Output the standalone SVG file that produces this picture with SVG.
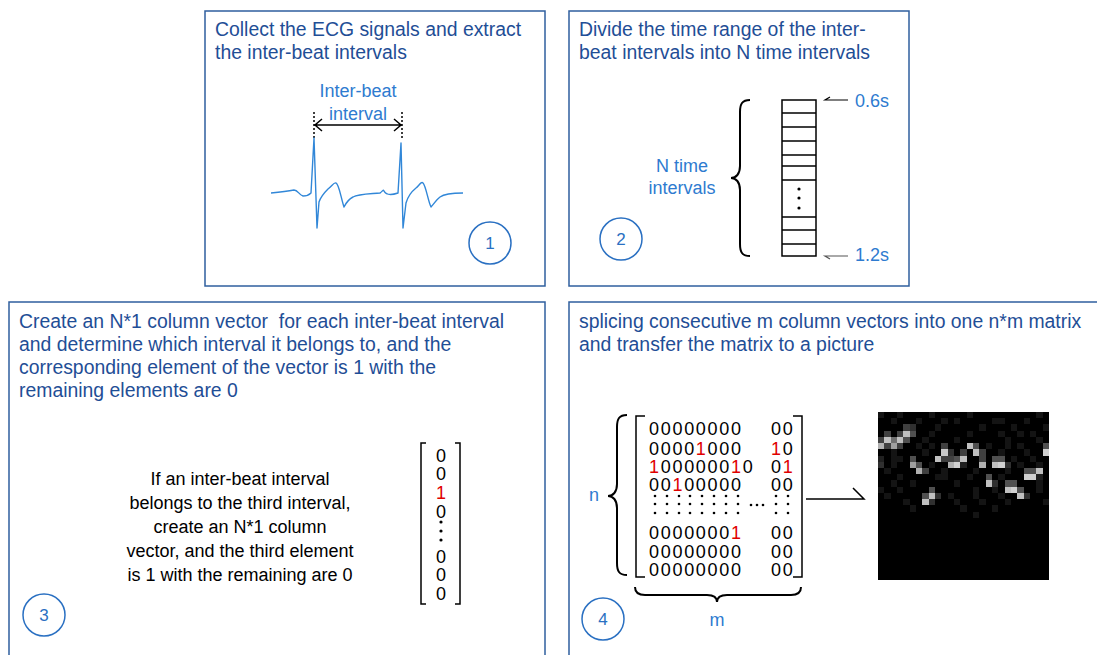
<svg xmlns="http://www.w3.org/2000/svg" width="1097" height="655" viewBox="0 0 1097 655">
<style>
text{font-family:"Liberation Sans",Arial,sans-serif}
.panel{fill:#fff;stroke:#2f5f9e;stroke-width:1.5}
.title{font-size:19.4px;fill:#1f4e96}
.lbl{font-size:18px;fill:#2e7bd0}
.body{font-size:18px;fill:#000;text-anchor:middle}
.mat{font-size:18px;fill:#000;letter-spacing:1.7px}
.red{fill:#e00000}
.num circle{fill:none;stroke:#2a70c2;stroke-width:1.5}
.num text{font-size:17px;fill:#2a70c2;text-anchor:middle}
.ln{fill:none;stroke:#000;stroke-width:1.5}
.br{fill:none;stroke:#000;stroke-width:2}
.dot{fill:#000}
</style>
<rect width="1097" height="655" fill="#fff"/>

<g id="panel1">
<rect class="panel" x="205" y="11" width="340" height="275"/>
<text class="title" x="215" y="36">Collect the ECG signals and extract</text>
<text class="title" x="215" y="59">the inter-beat intervals</text>
<text class="lbl" x="358" y="97" text-anchor="middle">Inter-beat</text>
<text class="lbl" x="358" y="120" text-anchor="middle">interval</text>
<line x1="314" y1="112" x2="314" y2="138" stroke="#000" stroke-width="1.5" stroke-dasharray="2,2"/>
<line x1="402" y1="112" x2="402" y2="138" stroke="#000" stroke-width="1.5" stroke-dasharray="2,2"/>
<path class="ln" d="M314,125 H402 M322,119 L315,125 L322,131 M394,119 L401,125 L394,131"/>
<path fill="none" stroke="#3187d8" stroke-width="1.4" stroke-linejoin="round" d="M271,193 C280,192 288,191 294,190 C298,190 299,195 303,196 C307,196 309,195 311,193 L314,138 L317,228 L319,202 C321,196 324,193 328,189 C332,186 334,182 336,183 C339,184 341,198 344,207 C346,203 349,199 353,197 C358,194 368,194 380,193 C382,192 383,189 384,191 C386,195 392,195 398,193 L401,143 L403,228 L406,203 C408,196 411,192 416,188 C419,186 421,181 423,183 C426,186 428,201 431,207 C433,205 436,200 440,197 C444,194 450,193 463,193"/>
<g class="num"><circle cx="490" cy="243" r="21"/><text x="490" y="249">1</text></g>
</g>

<g id="panel2">
<rect class="panel" x="569" y="11" width="340" height="275"/>
<text class="title" x="579" y="36">Divide the time range of the inter-</text>
<text class="title" x="579" y="59">beat intervals into N time intervals</text>
<text class="lbl" x="682" y="172" text-anchor="middle">N time</text>
<text class="lbl" x="682" y="194" text-anchor="middle">intervals</text>
<path class="br" d="M750,100 C742,100 740,104 740,112 L740,166 C740,174 736,178 731,178 C736,178 740,182 740,190 L740,244 C740,252 742,256 750,256"/>
<rect x="782" y="100" width="34" height="156" fill="none" stroke="#000" stroke-width="1.5"/>
<path class="ln" d="M782,113 H816 M782,127 H816 M782,141 H816 M782,155 H816 M782,166 H816 M782,180 H816 M782,217 H816 M782,230 H816 M782,244 H816"/>
<circle class="dot" cx="799" cy="189" r="1.6"/>
<circle class="dot" cx="799" cy="198" r="1.6"/>
<circle class="dot" cx="799" cy="208" r="1.6"/>
<path fill="none" stroke="#000" stroke-width="1.2" d="M848,100 H825 L830,97"/>
<path fill="none" stroke="#555" stroke-width="1.2" d="M848,256 H825 L830,259"/>
<text class="lbl" x="855" y="107">0.6s</text>
<text class="lbl" x="855" y="261">1.2s</text>
<g class="num"><circle cx="621" cy="239" r="21"/><text x="621" y="245">2</text></g>
</g>

<g id="panel3">
<rect class="panel" x="9" y="302" width="536" height="380"/>
<text class="title" x="19" y="328" style="white-space:pre">Create an N*1 column vector  for each inter-beat interval</text>
<text class="title" x="19" y="351">and determine which interval it belongs to, and the</text>
<text class="title" x="19" y="374">corresponding element of the vector is 1 with the</text>
<text class="title" x="19" y="397">remaining elements are 0</text>
<text class="body" x="240" y="485">If an inter-beat interval</text>
<text class="body" x="240" y="509">belongs to the third interval,</text>
<text class="body" x="240" y="533">create an N*1 column</text>
<text class="body" x="240" y="557">vector, and the third element</text>
<text class="body" x="240" y="581">is 1 with the remaining are 0</text>
<path class="ln" d="M426,443 H421 V604 H426 M455,443 H460 V604 H455"/>
<g font-size="18" text-anchor="middle">
<text x="441" y="462">0</text>
<text x="441" y="480">0</text>
<text x="441" y="499" class="red">1</text>
<text x="441" y="518">0</text>
<text x="441" y="563">0</text>
<text x="441" y="581">0</text>
<text x="441" y="600">0</text>
</g>
<circle class="dot" cx="441" cy="522" r="1.6"/>
<circle class="dot" cx="441" cy="531" r="1.6"/>
<circle class="dot" cx="441" cy="540" r="1.6"/>
<g class="num"><circle cx="44" cy="615" r="21"/><text x="44" y="621">3</text></g>
</g>

<g id="panel4">
<rect class="panel" x="569" y="302" width="560" height="380"/>
<text class="title" x="579" y="328">splicing consecutive m column vectors into one n*m matrix</text>
<text class="title" x="579" y="351">and transfer the matrix to a picture</text>
<text class="lbl" x="594" y="501" text-anchor="middle">n</text>
<path class="br" d="M627,415 C619,415 617,419 617,427 L617,484 C617,492 613,496 608,496 C613,496 617,500 617,508 L617,563 C617,571 619,575 627,575"/>
<path class="ln" d="M645,416 H636 V577 H645 M793,416 H802 V577 H793"/>
<g class="mat">
<text x="649" y="435">00000000</text>
<text x="649" y="455">0000<tspan class="red">1</tspan>000</text>
<text x="649" y="473"><tspan class="red">1</tspan>000000<tspan class="red">1</tspan>0</text>
<text x="649" y="491">00<tspan class="red">1</tspan>00000</text>
<text x="649" y="539">0000000<tspan class="red">1</tspan></text>
<text x="649" y="558">00000000</text>
<text x="649" y="576">00000000</text>
<text x="771" y="435">00</text>
<text x="771" y="455"><tspan class="red">1</tspan>0</text>
<text x="771" y="473">0<tspan class="red">1</tspan></text>
<text x="771" y="491">00</text>
<text x="771" y="539">00</text>
<text x="771" y="558">00</text>
<text x="771" y="576">00</text>
</g>
<g class="dot">
<circle cx="655" cy="496" r="1.3"/><circle cx="667" cy="496" r="1.3"/><circle cx="679" cy="496" r="1.3"/><circle cx="690" cy="496" r="1.3"/><circle cx="702" cy="496" r="1.3"/><circle cx="714" cy="496" r="1.3"/><circle cx="726" cy="496" r="1.3"/><circle cx="738" cy="496" r="1.3"/><circle cx="776" cy="496" r="1.3"/><circle cx="788" cy="496" r="1.3"/>
<circle cx="655" cy="504" r="1.3"/><circle cx="667" cy="504" r="1.3"/><circle cx="679" cy="504" r="1.3"/><circle cx="690" cy="504" r="1.3"/><circle cx="702" cy="504" r="1.3"/><circle cx="714" cy="504" r="1.3"/><circle cx="726" cy="504" r="1.3"/><circle cx="738" cy="504" r="1.3"/><circle cx="776" cy="504" r="1.3"/><circle cx="788" cy="504" r="1.3"/>
<circle cx="655" cy="513" r="1.3"/><circle cx="667" cy="513" r="1.3"/><circle cx="679" cy="513" r="1.3"/><circle cx="690" cy="513" r="1.3"/><circle cx="702" cy="513" r="1.3"/><circle cx="714" cy="513" r="1.3"/><circle cx="726" cy="513" r="1.3"/><circle cx="738" cy="513" r="1.3"/><circle cx="776" cy="513" r="1.3"/><circle cx="788" cy="513" r="1.3"/>
<circle cx="751" cy="505" r="1.3"/><circle cx="757" cy="505" r="1.3"/><circle cx="763" cy="505" r="1.3"/>
</g>
<path class="br" d="M635,587 C635,593 639,595 645,595 L707,595 C713,595 717,597 717,602 C717,597 721,595 727,595 L791,595 C797,595 801,593 801,587"/>
<text class="lbl" x="717" y="626" text-anchor="middle">m</text>
<g class="num"><circle cx="603" cy="619" r="21"/><text x="603" y="625">4</text></g>
</g>

<g id="connectors">
<path class="ln" d="M806,499 H864 L853,488"/>
</g>

<g id="picture" transform="translate(878,412) scale(6.333,6.222)" shape-rendering="crispEdges">
<rect x="0" y="0" width="27" height="27" fill="#000"/>
<g fill="#141414">
<rect x="0" y="0" width="1" height="1"/><rect x="3" y="0" width="1" height="1"/><rect x="8" y="0" width="1" height="1"/><rect x="14" y="0" width="1" height="1"/><rect x="25" y="0" width="1" height="1"/>
<rect x="2" y="1" width="1" height="1"/><rect x="6" y="1" width="1" height="1"/><rect x="10" y="1" width="1" height="1"/><rect x="12" y="1" width="1" height="1"/><rect x="18" y="1" width="1" height="1"/><rect x="19" y="1" width="1" height="1"/><rect x="23" y="1" width="1" height="1"/>
<rect x="9" y="2" width="1" height="1"/><rect x="16" y="2" width="1" height="1"/><rect x="21" y="2" width="1" height="1"/><rect x="26" y="2" width="1" height="1"/>
<rect x="8" y="3" width="1" height="1"/><rect x="14" y="3" width="1" height="1"/><rect x="19" y="3" width="1" height="1"/><rect x="22" y="3" width="1" height="1"/><rect x="24" y="3" width="1" height="1"/>
<rect x="7" y="4" width="1" height="1"/><rect x="12" y="4" width="1" height="1"/><rect x="20" y="4" width="1" height="1"/><rect x="25" y="4" width="1" height="1"/>
<rect x="6" y="5" width="1" height="1"/><rect x="8" y="5" width="1" height="1"/><rect x="17" y="5" width="1" height="1"/><rect x="20" y="5" width="1" height="1"/><rect x="22" y="5" width="1" height="1"/>
<rect x="2" y="6" width="1" height="1"/><rect x="7" y="6" width="1" height="1"/><rect x="19" y="6" width="1" height="1"/><rect x="23" y="6" width="1" height="1"/>
<rect x="2" y="7" width="1" height="1"/><rect x="3" y="7" width="1" height="1"/><rect x="21" y="7" width="1" height="1"/><rect x="24" y="7" width="1" height="1"/>
<rect x="2" y="8" width="1" height="1"/><rect x="8" y="8" width="1" height="1"/><rect x="22" y="8" width="1" height="1"/><rect x="25" y="8" width="1" height="1"/>
<rect x="1" y="9" width="1" height="1"/><rect x="10" y="9" width="1" height="1"/><rect x="15" y="9" width="1" height="1"/><rect x="20" y="9" width="1" height="1"/>
<rect x="3" y="10" width="1" height="1"/><rect x="9" y="10" width="1" height="1"/><rect x="10" y="10" width="1" height="1"/><rect x="14" y="10" width="1" height="1"/><rect x="19" y="10" width="1" height="1"/>
<rect x="2" y="11" width="1" height="1"/><rect x="5" y="11" width="1" height="1"/><rect x="12" y="11" width="1" height="1"/><rect x="25" y="11" width="1" height="1"/>
<rect x="0" y="12" width="1" height="1"/><rect x="3" y="12" width="1" height="1"/><rect x="15" y="12" width="1" height="1"/><rect x="18" y="12" width="1" height="1"/><rect x="25" y="12" width="1" height="1"/>
<rect x="1" y="13" width="1" height="1"/><rect x="11" y="13" width="1" height="1"/><rect x="15" y="13" width="1" height="1"/><rect x="19" y="13" width="1" height="1"/>
<rect x="4" y="14" width="1" height="1"/><rect x="12" y="14" width="1" height="1"/><rect x="16" y="14" width="1" height="1"/><rect x="20" y="14" width="1" height="1"/><rect x="26" y="14" width="1" height="1"/>
<rect x="5" y="15" width="1" height="1"/><rect x="13" y="15" width="1" height="1"/><rect x="18" y="15" width="1" height="1"/>
<rect x="15" y="16" width="1" height="1"/>
</g>
<rect x="4" y="2" width="1" height="1" fill="#404040"/><rect x="5" y="2" width="1" height="1" fill="#303030"/>
<rect x="1" y="3" width="1" height="1" fill="#404040"/><rect x="3" y="3" width="1" height="1" fill="#404040"/><rect x="4" y="3" width="1" height="1" fill="#c0c0c0"/><rect x="5" y="3" width="1" height="1" fill="#505050"/>
<rect x="0" y="4" width="1" height="1" fill="#404040"/><rect x="1" y="4" width="1" height="1" fill="#c0c0c0"/><rect x="2" y="4" width="1" height="1" fill="#707070"/><rect x="3" y="4" width="1" height="1" fill="#c0c0c0"/><rect x="4" y="4" width="1" height="1" fill="#505050"/>
<rect x="0" y="5" width="1" height="1" fill="#b0b0b0"/><rect x="1" y="5" width="1" height="1" fill="#404040"/><rect x="2" y="5" width="1" height="1" fill="#a0a0a0"/><rect x="3" y="5" width="1" height="1" fill="#404040"/><rect x="10" y="5" width="1" height="1" fill="#404040"/><rect x="14" y="5" width="1" height="1" fill="#c0c0c0"/><rect x="15" y="5" width="1" height="1" fill="#505050"/><rect x="26" y="5" width="1" height="1" fill="#505050"/>
<rect x="10" y="6" width="1" height="1" fill="#c8c8c8"/><rect x="11" y="6" width="1" height="1" fill="#303030"/><rect x="13" y="6" width="1" height="1" fill="#404040"/><rect x="15" y="6" width="1" height="1" fill="#c0c0c0"/><rect x="16" y="6" width="1" height="1" fill="#404040"/><rect x="26" y="6" width="1" height="1" fill="#d0d0d0"/>
<rect x="0" y="7" width="1" height="1" fill="#202020"/><rect x="5" y="7" width="1" height="1" fill="#505050"/><rect x="9" y="7" width="1" height="1" fill="#c0c0c0"/><rect x="10" y="7" width="1" height="1" fill="#404040"/><rect x="11" y="7" width="1" height="1" fill="#404040"/><rect x="12" y="7" width="1" height="1" fill="#505050"/><rect x="13" y="7" width="1" height="1" fill="#c0c0c0"/><rect x="16" y="7" width="1" height="1" fill="#404040"/><rect x="18" y="7" width="1" height="1" fill="#505050"/><rect x="19" y="7" width="1" height="1" fill="#505050"/>
<rect x="0" y="8" width="1" height="1" fill="#303030"/><rect x="5" y="8" width="1" height="1" fill="#a0a0a0"/><rect x="6" y="8" width="1" height="1" fill="#505050"/><rect x="11" y="8" width="1" height="1" fill="#b0b0b0"/><rect x="12" y="8" width="1" height="1" fill="#d0d0d0"/><rect x="13" y="8" width="1" height="1" fill="#202020"/><rect x="16" y="8" width="1" height="1" fill="#b0b0b0"/><rect x="18" y="8" width="1" height="1" fill="#c0c0c0"/><rect x="19" y="8" width="1" height="1" fill="#d0d0d0"/><rect x="20" y="8" width="1" height="1" fill="#303030"/>
<rect x="6" y="9" width="1" height="1" fill="#b0b0b0"/><rect x="7" y="9" width="1" height="1" fill="#404040"/><rect x="23" y="9" width="1" height="1" fill="#505050"/><rect x="24" y="9" width="1" height="1" fill="#505050"/><rect x="25" y="9" width="1" height="1" fill="#c0c0c0"/>
<rect x="17" y="10" width="1" height="1" fill="#505050"/><rect x="23" y="10" width="1" height="1" fill="#d0d0d0"/><rect x="24" y="10" width="1" height="1" fill="#d0d0d0"/><rect x="25" y="10" width="1" height="1" fill="#202020"/>
<rect x="17" y="11" width="1" height="1" fill="#c0c0c0"/><rect x="18" y="11" width="1" height="1" fill="#303030"/><rect x="20" y="11" width="1" height="1" fill="#505050"/><rect x="21" y="11" width="1" height="1" fill="#505050"/>
<rect x="8" y="12" width="1" height="1" fill="#505050"/><rect x="20" y="12" width="1" height="1" fill="#c0c0c0"/><rect x="21" y="12" width="1" height="1" fill="#d0d0d0"/><rect x="22" y="12" width="1" height="1" fill="#505050"/>
<rect x="7" y="13" width="1" height="1" fill="#505050"/><rect x="8" y="13" width="1" height="1" fill="#c0c0c0"/><rect x="9" y="13" width="1" height="1" fill="#303030"/><rect x="22" y="13" width="1" height="1" fill="#c0c0c0"/><rect x="23" y="13" width="1" height="1" fill="#303030"/>
<rect x="7" y="14" width="1" height="1" fill="#c0c0c0"/><rect x="8" y="14" width="1" height="1" fill="#303030"/>
</g>
</svg>
